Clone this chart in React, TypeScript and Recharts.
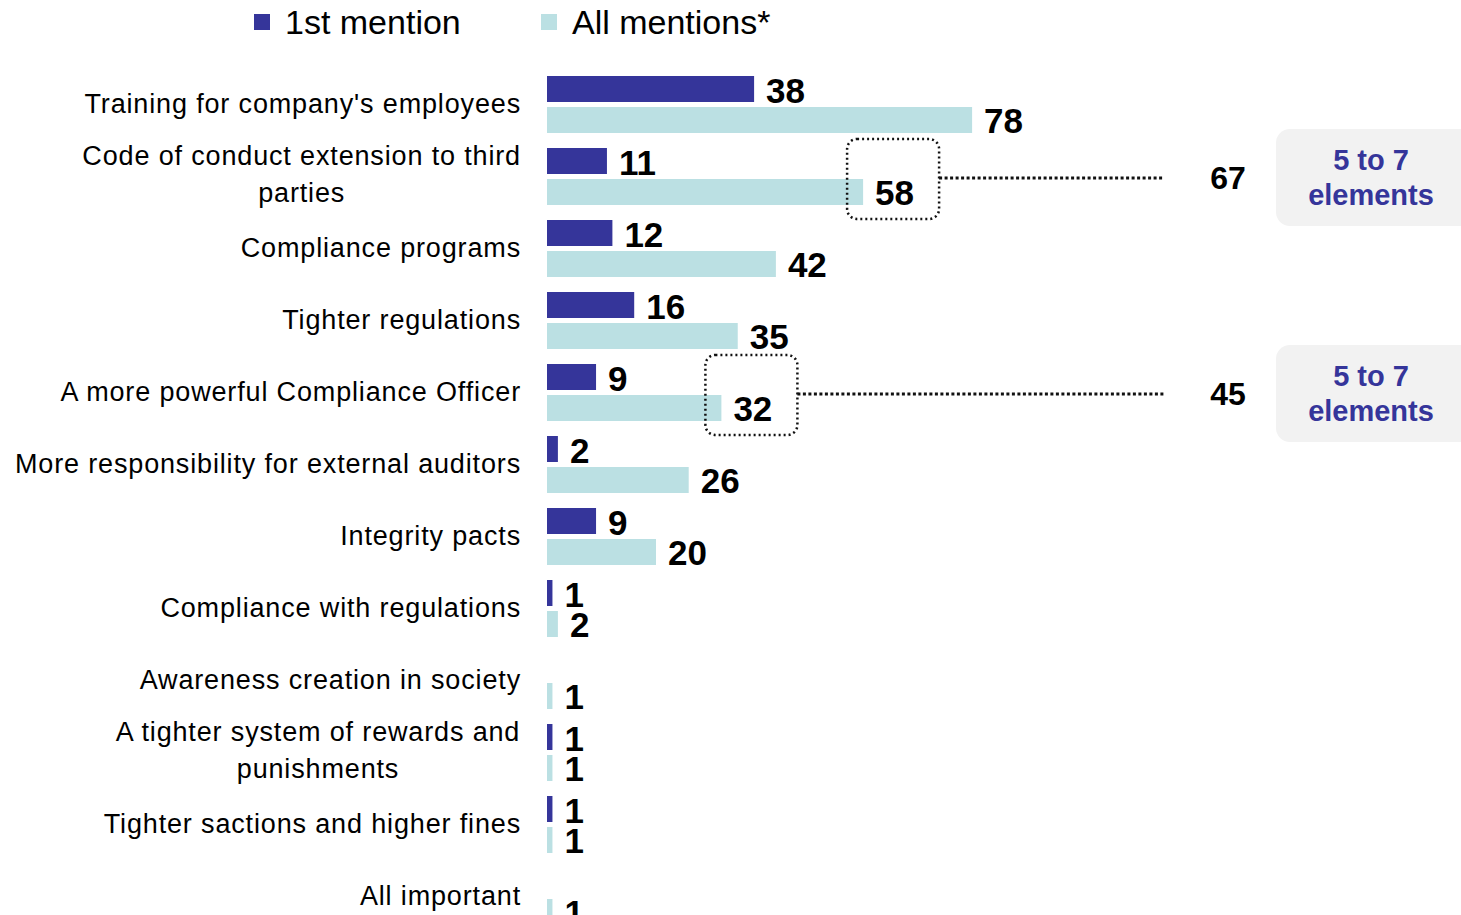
import React from "react";
import { Bar, BarChart, LabelList, XAxis, YAxis } from "recharts";

const CATEGORIES = [
  "Training for company's employees",
  "Code of conduct extension to third\nparties",
  "Compliance programs",
  "Tighter regulations",
  "A more powerful Compliance Officer",
  "More responsibility for external auditors",
  "Integrity pacts",
  "Compliance with regulations",
  "Awareness creation in society",
  "A tighter system of rewards and\npunishments",
  "Tighter sactions and higher fines",
  "All important",
];
const FIRST_MENTION = [38, 11, 12, 16, 9, 2, 9, 1, 0, 1, 1, 0];
const ALL_MENTIONS = [78, 58, 42, 35, 32, 26, 20, 2, 1, 1, 1, 1];
const TOTALS: (number | null)[] = [null, 67, null, null, 45, null, null, null, null, null, null, null];
const TOTAL_NOTE = ["5 to 7", "elements"];

const COLORS = {
  first: "#35359a",
  all: "#bbe0e3",
  text: "#000000",
  note: "#35359a",
  noteBg: "#f2f2f2",
};

const FONT = "'Liberation Sans', Arial, sans-serif";
const TICK_SIZE = 27;
const TICK_SPACING = 0.85;

const data = CATEGORIES.map((name, i) => ({
  name,
  first: FIRST_MENTION[i],
  all: ALL_MENTIONS[i],
  total: TOTALS[i],
}));

let ctx: CanvasRenderingContext2D | null = null;
function textWidth(s: string) {
  if (!ctx) ctx = document.createElement("canvas").getContext("2d");
  if (!ctx) return s.length * 13;
  ctx.font = `${TICK_SIZE}px 'Liberation Sans', Arial`;
  return ctx.measureText(s).width + s.length * TICK_SPACING;
}

function CategoryTick(props: any) {
  const { x, y, payload } = props;
  const lines = String(payload.value).split("\n");
  const right = x - 18;
  const common = { fontSize: TICK_SIZE, fontFamily: FONT, fill: COLORS.text, letterSpacing: TICK_SPACING };
  if (lines.length === 1) {
    return (
      <text x={right} y={y} textAnchor="end" dominantBaseline="central" {...common}>
        {lines[0]}
      </text>
    );
  }
  const w = Math.max(...lines.map((l) => textWidth(l)));
  const cx = right - w / 2;
  const lh = 37;
  return (
    <text textAnchor="middle" {...common}>
      {lines.map((l, i) => (
        <tspan key={i} x={cx} y={y - 2 + (i - (lines.length - 1) / 2) * lh} dominantBaseline="central">
          {l}
        </tspan>
      ))}
    </text>
  );
}

function valueText(x: number, y: number, value: number) {
  return (
    <text x={x} y={y} dominantBaseline="central" fontSize={35} fontWeight="bold" fontFamily={FONT} fill={COLORS.text}>
      {value}
    </text>
  );
}

function FirstLabel(props: any) {
  const { x, y, width, height, value } = props;
  if (!value) return null;
  return valueText(x + width + 12, y + height / 2 + 1, value);
}

function AllLabel(props: any) {
  const { x, y, width, height, value, index } = props;
  if (!value) return null;
  const endX = x + width;
  const cy = y + height / 2;
  const total = TOTALS[index];
  return (
    <g>
      {valueText(endX + 12, cy, value)}
      {total != null && (
        <g>
          <rect x={endX - 16} y={cy - 53} width={92} height={80} rx={10} fill="none" stroke="#111" strokeWidth={2.5} strokeDasharray="2 3" />
          <line x1={endX + 76} x2={1164} y1={cy - 14} y2={cy - 14} stroke="#111" strokeWidth={3} strokeDasharray="3 2.5" />
          <text x={1228} y={cy - 14} textAnchor="middle" dominantBaseline="central" fontSize={32} fontWeight="bold" fontFamily={FONT} fill={COLORS.text}>
            {total}
          </text>
          <rect x={1276} y={cy - 63} width={210} height={97} rx={14} fill={COLORS.noteBg} />
          <text textAnchor="middle" fontSize={29} fontWeight="bold" fontFamily={FONT} fill={COLORS.note}>
            <tspan x={1371} y={cy - 32} dominantBaseline="central">{TOTAL_NOTE[0]}</tspan>
            <tspan x={1371} y={cy + 3} dominantBaseline="central">{TOTAL_NOTE[1]}</tspan>
          </text>
        </g>
      )}
    </g>
  );
}

function LegendBox() {
  const item = (color: string, label: string, left: number) => (
    <div style={{ position: "absolute", left, top: 0, display: "flex", alignItems: "center", height: 44 }}>
      <div style={{ width: 16, height: 16, background: color, marginRight: 15 }} />
      <span style={{ fontSize: 34, fontFamily: FONT, color: COLORS.text }}>{label}</span>
    </div>
  );
  return (
    <>
      {item(COLORS.first, "1st mention", 254)}
      {item(COLORS.all, "All mentions*", 541)}
    </>
  );
}

export default function App() {
  return (
    <div style={{ position: "absolute", left: 0, top: 0, width: 1461, height: 915, overflow: "hidden", background: "#fff" }}>
      <LegendBox />
      <BarChart
        width={1461}
        height={940}
        data={data}
        layout="vertical"
        margin={{ top: 68, right: 369, bottom: 8, left: 0 }}
        barSize={26}
        barGap={5}
        style={{ position: "absolute", left: 0, top: 0 }}
      >
        <XAxis type="number" domain={[0, 100]} hide />
        <YAxis type="category" dataKey="name" width={547} axisLine={false} tickLine={false} tick={<CategoryTick />} interval={0} />
        <Bar dataKey="first" fill={COLORS.first} isAnimationActive={false}>
          <LabelList dataKey="first" content={<FirstLabel />} />
        </Bar>
        <Bar dataKey="all" fill={COLORS.all} isAnimationActive={false}>
          <LabelList dataKey="all" content={<AllLabel />} />
        </Bar>
      </BarChart>
    </div>
  );
}
